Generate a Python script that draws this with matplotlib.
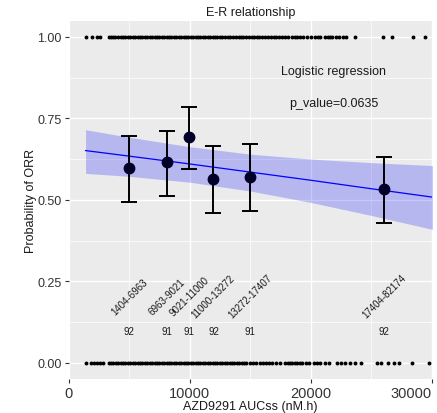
import matplotlib
matplotlib.use("Agg")
import matplotlib.pyplot as plt
from matplotlib.ticker import MultipleLocator

plt.rcParams['font.family'] = ['Liberation Sans', 'DejaVu Sans']

# ---- data ----
resp_x = [1420, 1940, 2380, 2580, 3320, 3500, 3700, 3870,
          4100, 4300, 4500, 4700, 4900, 5100, 5300, 5500, 5700, 5900, 6100, 6300,
          6500, 6700, 6900, 7100, 7300, 7500, 7700, 7900, 8100, 8300, 8500, 8700,
          8900, 9100, 9300, 9500, 9700, 9900, 10100, 10300, 10500, 10700, 10900,
          11100, 11300, 11500, 11700, 11900, 12100, 12300, 12500, 12700, 12900,
          13150, 13350, 13550, 13800, 14050, 14250, 14450, 14700, 14900, 15150,
          15350, 15550, 15750, 16000, 16250, 16450, 16700, 16950, 17150, 17400,
          17650, 17900, 18150, 18500, 18700, 18900, 19100, 19350, 19700, 20050,
          20400, 20650, 20800, 21150, 21400, 21600, 21800, 22100, 22350, 22650,
          22950, 23650, 26000, 26700, 28500, 29480]
nonresp_x = [1470, 1830, 2100, 2380, 2580, 2850,
             3300, 3500, 3700, 3900, 4100, 4300, 4500, 4700, 4900, 5100, 5300, 5500,
             5700, 5900, 6100, 6300, 6500, 6700, 6900, 7100, 7300, 7500, 7700, 7900,
             8100, 8300, 8500, 8700, 8900, 9100, 9300, 9500, 9700, 9900, 10100, 10300,
             10500, 10700, 10900, 11100, 11300, 11500, 11700, 11900, 12100, 12300,
             12500, 12700, 12900, 13100, 13300, 13500, 13700, 13900, 14100, 14300,
             14500, 14700, 15000, 15250, 15500, 15800, 16050, 16300, 16600, 16850,
             17150, 17450, 17900, 18100, 18300, 18500, 18700, 18900, 19100, 19300,
             19600, 19850, 20260, 20540, 20810, 21220, 21500, 22190, 22550, 22880,
             23290, 23700, 24200, 25500, 25800, 26400, 26880, 27340, 28390, 29770]

bin_x = [5025, 8115, 9985, 11970, 15000, 26100]
bin_p = [0.598, 0.615, 0.693, 0.565, 0.571, 0.532]
bin_lo = [0.494, 0.513, 0.595, 0.461, 0.467, 0.428]
bin_hi = [0.696, 0.712, 0.785, 0.666, 0.671, 0.632]
bin_labels = ['1404-6963', '6963-9021', '9021-11000', '11000-13272', '13272-17407', '17404-82174']
bin_n = ['92', '91', '91', '92', '91', '92']

fit_x = [1400, 5000, 10000, 15000, 20000, 25000, 30100]
fit_p = [0.651, 0.634, 0.610, 0.585, 0.560, 0.534, 0.508]
fit_lo = [0.581, 0.572, 0.554, 0.527, 0.492, 0.452, 0.409]
fit_hi = [0.715, 0.692, 0.663, 0.640, 0.625, 0.614, 0.605]

# ---- figure ----
fig = plt.figure(figsize=(4.37, 4.14), dpi=100)
ax = fig.add_axes([0.157, 0.082, 0.832, 0.866])
ax.set_facecolor('#EBEBEB')
for s in ax.spines.values():
    s.set_visible(False)

ax.set_xlim(0, 30050)
ax.set_ylim(-0.05, 1.05)
ax.xaxis.set_major_locator(MultipleLocator(10000))
ax.xaxis.set_minor_locator(MultipleLocator(5000))
ax.yaxis.set_major_locator(MultipleLocator(0.25))
ax.yaxis.set_minor_locator(MultipleLocator(0.125))
ax.grid(which='major', color='white', lw=1.0)
ax.grid(which='minor', color='white', lw=0.5)
ax.set_axisbelow(True)
ax.tick_params(which='minor', length=0)
ax.tick_params(which='major', length=3, color='#333333', width=0.8)
ax.tick_params(axis='y', labelsize=9, labelcolor='#333333', pad=2)
ax.tick_params(axis='x', labelsize=10.5, labelcolor='#333333', pad=2)
ax.set_yticks([0, 0.25, 0.5, 0.75, 1.0])
ax.set_yticklabels(['0.00', '0.25', '0.50', '0.75', '1.00'])
ax.set_xticks([0, 10000, 20000, 30000])
ax.set_xticklabels(['0', '10000', '20000', '30000'])
xt = ax.get_xticklabels()
xt[-1].set_horizontalalignment('right')
xt[-1].set_x(30300)

# raw dots
ax.plot(resp_x, [1.0] * len(resp_x), 'o', color='black', ms=2.8, mew=0, zorder=3, clip_on=False)
ax.plot(nonresp_x, [0.0] * len(nonresp_x), 'o', color='black', ms=2.8, mew=0, zorder=3, clip_on=False)

# fit and band
ax.fill_between(fit_x, fit_lo, fit_hi, color='blue', alpha=0.22, lw=0, zorder=2)
ax.plot(fit_x, fit_p, color='blue', lw=0.9, zorder=2.5)

# binned points
yerr = [[p - l for p, l in zip(bin_p, bin_lo)], [h - p for p, h in zip(bin_p, bin_hi)]]
ax.errorbar(bin_x, bin_p, yerr=yerr, fmt='o', color='black', ecolor='black',
            mfc='#000028', mec='#000028', ms=7.5, elinewidth=1.4, capsize=5.5,
            capthick=1.4, zorder=4)

for x, lab, n in zip(bin_x, bin_labels, bin_n):
    ax.text(x, 0.205, lab, rotation=45, ha='center', va='center', fontsize=7, color='#1a1a1a')
    ax.text(x, 0.098, n, ha='center', va='center', fontsize=7, color='#1a1a1a')

ax.text(21900, 0.895, 'Logistic regression', ha='center', va='center', fontsize=9, color='#1a1a1a')
ax.text(21900, 0.797, 'p_value=0.0635', ha='center', va='center', fontsize=9, color='#1a1a1a')

ax.set_title('E-R relationship', fontsize=9, color='#1a1a1a', pad=4)
ax.set_xlabel('AZD9291 AUCss (nM.h)', fontsize=9, color='#1a1a1a', labelpad=0)
ax.set_ylabel('Probability of ORR', fontsize=9, color='#1a1a1a', labelpad=0)

fig.savefig('out.png', dpi=100)
